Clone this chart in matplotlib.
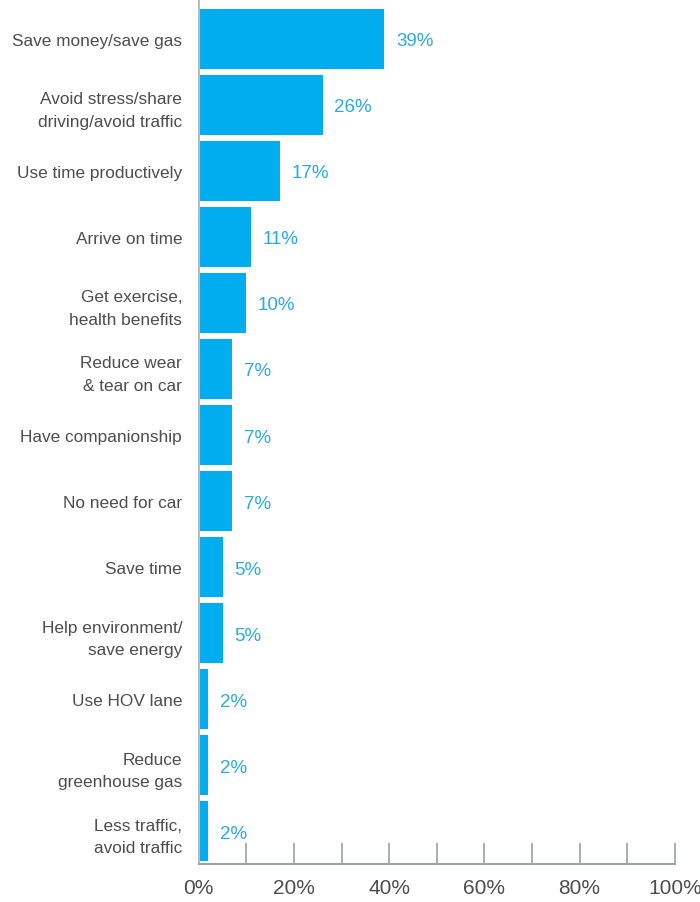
import matplotlib
matplotlib.use("Agg")
import matplotlib.pyplot as plt
from matplotlib.ticker import MultipleLocator, FixedLocator

reasons = [
    "Save money/save gas",
    "Avoid stress/share\ndriving/avoid traffic",
    "Use time productively",
    "Arrive on time",
    "Get exercise,\nhealth benefits",
    "Reduce wear\n& tear on car",
    "Have companionship",
    "No need for car",
    "Save time",
    "Help environment/\nsave energy",
    "Use HOV lane",
    "Reduce\ngreenhouse gas",
    "Less traffic,\navoid traffic",
]
shares = [39, 26, 17, 11, 10, 7, 7, 7, 5, 5, 2, 2, 2]
major_ticks = [0, 20, 40, 60, 80, 100]
tick_labels = ["0%", "20%", "40%", "60%", "80%", "100%"]

plt.rcParams["font.family"] = ["Liberation Sans", "DejaVu Sans"]

bar_blue = "#00aeef"
label_blue = "#29abe2"
axis_grey = "#9ba1a9"
text_grey = "#4d4d4d"

fig = plt.figure(figsize=(7, 9.03), dpi=100)
ax = fig.add_axes([0.284, 0.042, 0.68, 0.958])

pos = list(range(len(reasons)))
ax.barh(pos, shares, height=0.9, color=bar_blue, zorder=2)
for p, v in zip(pos, shares):
    ax.text(v + 2.4, p, f"{v}%", color=label_blue, fontsize=13.5,
            va="center_baseline", ha="left")

ax.set_ylim(12.5, -0.605)
ax.set_xlim(0, 100)
ax.set_yticks(pos)
ax.set_yticklabels(reasons, fontsize=12.4, color=text_grey, linespacing=1.6)
ax.tick_params(axis="y", length=0, pad=12)

ax.xaxis.set_major_locator(FixedLocator(major_ticks))
ax.set_xticklabels(tick_labels)
ax.xaxis.set_minor_locator(MultipleLocator(10))
ax.tick_params(axis="x", which="both", direction="in", length=15, width=1.2,
               color=axis_grey, labelsize=15, labelcolor=text_grey, pad=10)

for side in ("top", "right"):
    ax.spines[side].set_visible(False)
ax.spines["bottom"].set_color(axis_grey)
ax.spines["bottom"].set_linewidth(1.5)
ax.spines["left"].set_color("#b8bcc2")
ax.spines["left"].set_linewidth(1.5)

fig.savefig("out.png", dpi=100)
